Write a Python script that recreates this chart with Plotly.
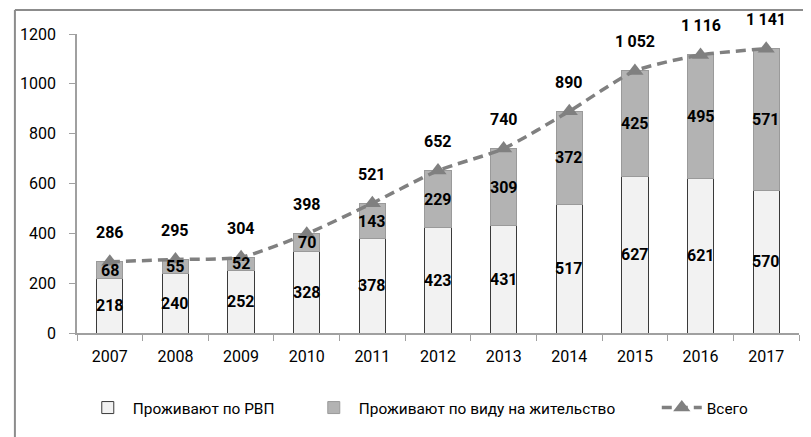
import plotly.graph_objects as go

years = ["2007", "2008", "2009", "2010", "2011", "2012", "2013", "2014", "2015", "2016", "2017"]
rvp = [218, 240, 252, 328, 378, 423, 431, 517, 627, 621, 570]
vnzh = [68, 55, 52, 70, 143, 229, 309, 372, 425, 495, 571]
total = [286, 295, 304, 398, 521, 652, 740, 890, 1052, 1116, 1141]
total_labels = ["286", "295", "304", "398", "521", "652", "740", "890", "1\u2009052", "1\u2009116", "1\u2009141"]

names = ["Проживают по РВП", "Проживают по виду на жительство", "Всего"]

REG = "Roboto"
BOLD = "Roboto"

fig = go.Figure()
fig.add_trace(go.Bar(x=years, y=rvp, name=names[0], legendwidth=171,
                     marker=dict(color="#f2f2f2", line=dict(color="#3a3a3a", width=1))))
fig.add_trace(go.Bar(x=years, y=vnzh, name=names[1], legendwidth=293,
                     marker=dict(color="#b3b3b3", line=dict(color="#9a9a9a", width=1))))
fig.add_trace(go.Scatter(x=years, y=total, name=names[2], mode="lines+markers",
                         line=dict(color="#808080", width=3.5, dash="10px,6px", shape="spline", smoothing=0.6),
                         marker=dict(symbol="triangle-up", size=15, color="#808080")))

ann = []
for i, y in enumerate(years):
    ann.append(dict(x=i, y=rvp[i] / 2, xref="x", yref="y", text=f"<b>{rvp[i]}</b>", showarrow=False,
                    font=dict(family=BOLD, size=16, color="#000")))
    ann.append(dict(x=i, y=rvp[i] + vnzh[i] / 2, xref="x", yref="y", text=f"<b>{vnzh[i]}</b>", showarrow=False,
                    font=dict(family=BOLD, size=16, color="#000")))
    ann.append(dict(x=i, y=total[i], xref="x", yref="y", text=f"<b>{total_labels[i]}</b>", showarrow=False,
                    yshift=29, font=dict(family=BOLD, size=16, color="#000")))

frame_col = "#8c8c8c"
shapes = [
    dict(type="line", xref="paper", yref="paper", x0=-0.086, x1=1.05, y0=1.08, y1=1.08,
         line=dict(color=frame_col, width=2)),
    dict(type="line", xref="paper", yref="paper", x0=-0.086, x1=-0.086, y0=1.08, y1=-0.40,
         line=dict(color=frame_col, width=2)),
]

fig.update_layout(
    width=811, height=437,
    margin=dict(l=62, r=20, t=26, b=112),
    paper_bgcolor="white", plot_bgcolor="white",
    barmode="stack", bargap=0.6,
    font=dict(family=REG, size=16, color="#000"),
    annotations=ann, shapes=shapes,
    showlegend=True,
    legend=dict(orientation="h", x=0.008, xanchor="left", y=-0.251, yanchor="middle",
                font=dict(family=REG, size=15.4, color="#000"), traceorder="normal",
                itemwidth=40),
    xaxis=dict(type="category", showline=True, linecolor="#a0a0a0", linewidth=1.5,
               ticks="outside", tickson="boundaries", ticklen=6, tickcolor="#a0a0a0",
               ticklabelstandoff=8, showgrid=False, range=[-0.5, 10.5]),
    yaxis=dict(range=[0, 1200], dtick=200, showline=True, linecolor="#a0a0a0", linewidth=1.5,
               ticks="outside", ticklen=6, tickcolor="#a0a0a0", showgrid=False, zeroline=False,
               ticklabelstandoff=10),
)

fig.write_html("out.html")
